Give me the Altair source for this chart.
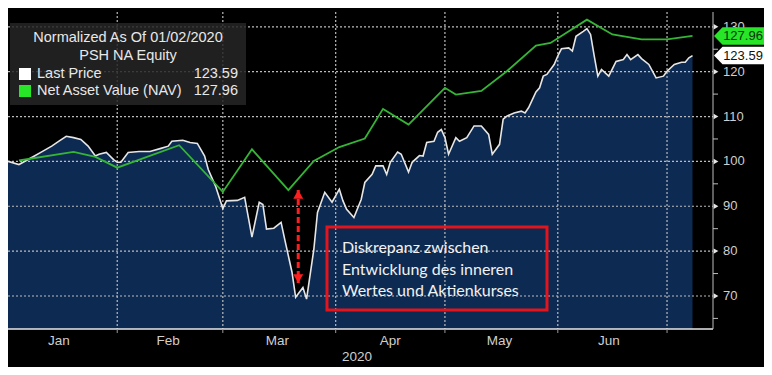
import altair as alt
import pandas as pd

# ---------------- data ----------------
price_dates = [
    "2020-01-02", "2020-01-05", "2020-01-09", "2020-01-11", "2020-01-14", "2020-01-16",
    "2020-01-18", "2020-01-20", "2020-01-22", "2020-01-24", "2020-01-26", "2020-01-27",
    "2020-01-29", "2020-01-31", "2020-02-01", "2020-02-02", "2020-02-04", "2020-02-07",
    "2020-02-10", "2020-02-13", "2020-02-15", "2020-02-16", "2020-02-19", "2020-02-21",
    "2020-02-23", "2020-02-25", "2020-02-26", "2020-02-28", "2020-03-01", "2020-03-02",
    "2020-03-05", "2020-03-07", "2020-03-09", "2020-03-11", "2020-03-12", "2020-03-13",
    "2020-03-15", "2020-03-17", "2020-03-18", "2020-03-20", "2020-03-21", "2020-03-23",
    "2020-03-24", "2020-03-26", "2020-03-27", "2020-03-29", "2020-03-31", "2020-04-02",
    "2020-04-03", "2020-04-04", "2020-04-06", "2020-04-08", "2020-04-09", "2020-04-11",
    "2020-04-12", "2020-04-14", "2020-04-15", "2020-04-16", "2020-04-18", "2020-04-19",
    "2020-04-21", "2020-04-22", "2020-04-24", "2020-04-25", "2020-04-26", "2020-04-28",
    "2020-04-29", "2020-04-30", "2020-05-01", "2020-05-02", "2020-05-04", "2020-05-05",
    "2020-05-07", "2020-05-09", "2020-05-11", "2020-05-13", "2020-05-14", "2020-05-16",
    "2020-05-17", "2020-05-18", "2020-05-20", "2020-05-22", "2020-05-23", "2020-05-24",
    "2020-05-26", "2020-05-27", "2020-05-28", "2020-05-29", "2020-05-31", "2020-06-01",
    "2020-06-02", "2020-06-04", "2020-06-05", "2020-06-06", "2020-06-08", "2020-06-09",
    "2020-06-10", "2020-06-11", "2020-06-12", "2020-06-13", "2020-06-15", "2020-06-17",
    "2020-06-19", "2020-06-20", "2020-06-21", "2020-06-23", "2020-06-24", "2020-06-26",
    "2020-06-28", "2020-06-30", "2020-07-01", "2020-07-03", "2020-07-05", "2020-07-06",
    "2020-07-07", "2020-07-08",
]
price_values = [
    100.0, 99.3, 101.1, 102.0, 103.4, 104.5,
    105.6, 105.3, 104.9, 103.4, 101.2, 101.6,
    102.0, 100.4, 99.8, 99.8, 102.0, 102.2,
    102.2, 102.9, 103.4, 104.5, 104.7, 104.2,
    104.0, 101.2, 98.2, 94.5, 89.5, 91.2,
    91.3, 92.0, 83.1, 90.9, 90.4, 84.9,
    85.1, 86.4, 82.6, 75.3, 69.7, 71.9,
    69.3, 80.4, 88.6, 93.1, 90.9, 93.8,
    91.2, 89.3, 87.5, 91.5, 95.3, 97.1,
    99.0, 99.0, 97.1, 99.8, 102.1, 101.6,
    97.6, 99.8, 101.3, 101.2, 104.2, 104.5,
    106.5, 107.1, 105.3, 101.6, 105.3, 104.5,
    105.3, 107.9, 107.9, 106.0, 101.6, 103.8,
    109.4, 110.1, 110.8, 111.2, 110.8, 112.0,
    115.5, 116.4, 119.0, 119.4, 121.6, 123.5,
    125.1, 125.3, 124.6, 127.9, 129.0, 129.6,
    128.3, 123.5, 119.0, 120.5, 119.0, 122.3,
    122.7, 123.8, 122.7, 123.8, 122.9, 121.6,
    118.6, 119.0, 120.1, 121.6, 122.1, 122.1,
    123.1, 123.59,
]
nav_dates = [
    "2020-01-05", "2020-01-20", "2020-01-26", "2020-02-01", "2020-02-18", "2020-03-01",
    "2020-03-09", "2020-03-19", "2020-03-26", "2020-04-02", "2020-04-09", "2020-04-14",
    "2020-04-21", "2020-05-01", "2020-05-04", "2020-05-11", "2020-05-18", "2020-05-26",
    "2020-05-30", "2020-06-09", "2020-06-16", "2020-06-24", "2020-07-01", "2020-07-08",
]
nav_values = [
    100.2, 102.1, 101.0, 98.6, 103.6, 93.2,
    102.7, 93.6, 100.1, 103.2, 105.1, 111.7,
    108.2, 116.4, 114.9, 115.7, 120.1, 125.8,
    126.4, 131.6, 128.3, 127.2, 127.2, 127.96,
]
month_names = ["Jan", "Feb", "Mar", "Apr", "May", "Jun"]
month_mid = ["2020-01-16", "2020-02-15", "2020-03-16", "2020-04-16", "2020-05-16", "2020-06-15"]
month_starts = ["2020-02-01", "2020-03-01", "2020-04-01", "2020-05-01", "2020-06-01", "2020-07-01"]
year_label = "2020"
y_ticks = [70, 80, 90, 100, 110, 120, 130]
y_minor = [65, 75, 85, 95, 105, 115, 125]
last_price = 123.59
last_nav = 127.96
legend_title = ["Normalized As Of 01/02/2020", "PSH NA Equity"]
series_names = ["Last Price", "Net Asset Value (NAV)"]
arrow_date = "2020-03-21T17:00:00"
arrow_top = 93.6
arrow_bottom = 72.9
annotation_lines = ["Diskrepanz zwischen", "Entwicklung des inneren", "Wertes und Aktienkurses"]

# ---------------- layout ----------------
W, H = 705, 317
FONT = "Liberation Sans"
GRID = "#bcbcbc"
AXIS_TXT = "#cfcfcf"
Y_MIN, Y_MAX = 62.64, 133.3

x_scale = alt.Scale(domain=[alt.DateTime(year=2020, month=1, date=2),
                            alt.DateTime(year=2020, month=7, date=13, hours=15)])
y_scale = alt.Scale(domain=[Y_MIN, Y_MAX], nice=False, zero=False)

price_df = pd.DataFrame({"date": pd.to_datetime(price_dates), "value": price_values})
nav_df = pd.DataFrame({"date": pd.to_datetime(nav_dates), "value": nav_values})
one = pd.DataFrame({"k": [0]})


def X(field):
    return alt.X(field, type="temporal", scale=x_scale, axis=None)


def Y(field):
    return alt.Y(field, type="quantitative", scale=y_scale, axis=None)


area = alt.Chart(price_df).mark_area(color="#0d2a52", opacity=1).encode(
    x=X("date"), y=Y("value"), y2=alt.Y2(datum=Y_MIN))

# grid (drawn as rules, over the area)
hgrid = alt.Chart(pd.DataFrame({"tick": y_ticks})).mark_rule(
    color=GRID, strokeDash=[2, 2], strokeWidth=1.2, opacity=1).encode(
    y=Y("tick"), x=alt.value(0), x2=alt.value(W))
vgrid = alt.Chart(pd.DataFrame({"d": pd.to_datetime(month_starts)})).mark_rule(
    color=GRID, strokeDash=[2, 2], strokeWidth=1.2, opacity=1).encode(
    x=X("d"), y=alt.value(0), y2=alt.value(H))

price_line = alt.Chart(price_df).mark_line(color="#e6e6e6", strokeWidth=1.6).encode(
    x=X("date"), y=Y("value"))
nav_line = alt.Chart(nav_df).mark_line(color="#35b535", strokeWidth=1.8).encode(
    x=X("date"), y=Y("value"))

# axis lines, ticks and labels
bottom_line = alt.Chart(one).mark_rule(color="#e8e8e8", strokeWidth=1.5).encode(
    y=alt.value(H), x=alt.value(0), x2=alt.value(W))
right_line = alt.Chart(one).mark_rule(color="#bdbdbd", strokeWidth=1).encode(
    x=alt.value(W), y=alt.value(0), y2=alt.value(H))
month_ticks = alt.Chart(pd.DataFrame({"d": pd.to_datetime(month_starts)})).mark_rule(
    color="#9a9a9a", strokeWidth=1).encode(
    x=X("d"), y=alt.value(H), y2=alt.value(H + 4))
minor_ticks = alt.Chart(pd.DataFrame({"tick": y_minor})).mark_rule(
    color="#bdbdbd", strokeWidth=1).encode(
    y=Y("tick"), x=alt.value(W), x2=alt.value(W + 5))
major_marks = alt.Chart(pd.DataFrame({"tick": y_ticks})).mark_point(
    shape="triangle-right", filled=True, color="#e6e6e6", size=30, opacity=1).encode(
    y=Y("tick"), x=alt.value(W + 3))
y_labels = alt.Chart(pd.DataFrame({"tick": y_ticks})).mark_text(
    align="left", baseline="middle", font=FONT, fontSize=13, color=AXIS_TXT).encode(
    y=Y("tick"), x=alt.value(W + 10), text=alt.Text("tick:Q", format="d"))

# last-value tags
tag_shape = "M -1 0 L -0.66 -0.35 L 1 -0.35 L 1 0.35 L -0.66 0.35 Z"
nav_tag = alt.Chart(pd.DataFrame({"v": [last_nav]})).mark_point(
    shape=tag_shape, filled=True, fill="#27e527", strokeWidth=0, size=2500, opacity=1).encode(
    y=Y("v"), x=alt.value(W + 26))
nav_tag_text = alt.Chart(pd.DataFrame({"v": [last_nav]})).mark_text(
    align="center", baseline="middle", font=FONT, fontSize=13, color="#0b300b").encode(
    y=Y("v"), x=alt.value(W + 30), text=alt.value(f"{last_nav:.2f}"))
price_tag = alt.Chart(pd.DataFrame({"v": [last_price]})).mark_point(
    shape=tag_shape, filled=True, fill="#ffffff", strokeWidth=0, size=2500, opacity=1).encode(
    y=Y("v"), x=alt.value(W + 26))
price_tag_text = alt.Chart(pd.DataFrame({"v": [last_price]})).mark_text(
    align="center", baseline="middle", font=FONT, fontSize=13, color="#111111").encode(
    y=Y("v"), x=alt.value(W + 30), text=alt.value(f"{last_price:.2f}"))

# legend box
legend_bg = alt.Chart(one).mark_rect(color="#262626", opacity=0.85).encode(
    x=alt.value(2), x2=alt.value(238), y=alt.value(11), y2=alt.value(93))
legend_layers = [legend_bg]
for i, t in enumerate(legend_title):
    legend_layers.append(alt.Chart(one).mark_text(
        align="center", baseline="middle", font=FONT, fontSize=14.5, color="#e8e8e8").encode(
        x=alt.value(120), y=alt.value(26 + 18 * i), text=alt.value(t)))
sq_colors = ["#ffffff", "#27e527"]
vals = [last_price, last_nav]
for i, name in enumerate(series_names):
    yc = 62 + 17 * i
    legend_layers.append(alt.Chart(one).mark_rect(color=sq_colors[i]).encode(
        x=alt.value(11), x2=alt.value(23), y=alt.value(yc - 6), y2=alt.value(yc + 6)))
    legend_layers.append(alt.Chart(one).mark_text(
        align="left", baseline="middle", font=FONT, fontSize=14.5, color="#e8e8e8").encode(
        x=alt.value(29), y=alt.value(yc), text=alt.value(name)))
    legend_layers.append(alt.Chart(one).mark_text(
        align="right", baseline="middle", font=FONT, fontSize=14.5, color="#e8e8e8").encode(
        x=alt.value(230), y=alt.value(yc), text=alt.value(f"{vals[i]:.2f}")))

# x labels
month_text = alt.Chart(pd.DataFrame({"d": pd.to_datetime(month_mid), "m": month_names})).mark_text(
    align="center", baseline="middle", font=FONT, fontSize=13.5, color=AXIS_TXT).encode(
    x=X("d"), y=alt.value(H + 12), text="m:N")
year_text = alt.Chart(one).mark_text(
    align="center", baseline="middle", font=FONT, fontSize=13.5, color=AXIS_TXT).encode(
    x=alt.value(349), y=alt.value(H + 28), text=alt.value(year_label))

# arrow
arrow_df = pd.DataFrame({"d": [pd.Timestamp(arrow_date)], "top": [arrow_top], "bottom": [arrow_bottom]})
arrow_shaft = alt.Chart(arrow_df).mark_rule(color="#ff1e1e", strokeWidth=3, strokeDash=[6, 3]).encode(
    x=X("d"), y=Y("top"), y2="bottom:Q")
arrow_head_top = alt.Chart(arrow_df).mark_point(
    shape="triangle-up", filled=True, color="#ff1e1e", size=100, opacity=1, yOffset=4.3).encode(
    x=X("d"), y=Y("top"))
arrow_head_bot = alt.Chart(arrow_df).mark_point(
    shape="triangle-down", filled=True, color="#ff1e1e", size=100, opacity=1, yOffset=-4.3).encode(
    x=X("d"), y=Y("bottom"))

# annotation
ann_box = alt.Chart(one).mark_rect(fill="transparent", stroke="#e4141c", strokeWidth=3).encode(
    x=alt.value(319), x2=alt.value(539), y=alt.value(215), y2=alt.value(298))
ann_layers = [ann_box]
for i, line in enumerate(annotation_lines):
    ann_layers.append(alt.Chart(one).mark_text(
        align="left", baseline="middle", font="Lato", fontSize=16, color="#f2f2f2").encode(
        x=alt.value(334), y=alt.value(236 + 21.5 * i), text=alt.value(line)))

chart = alt.layer(
    area, hgrid, vgrid, price_line, nav_line,
    bottom_line, right_line, month_ticks, minor_ticks, major_marks, y_labels,
    nav_tag, nav_tag_text, price_tag, price_tag_text,
    *legend_layers, month_text, year_text,
    arrow_shaft, arrow_head_top, arrow_head_bot, *ann_layers,
).properties(
    width=W, height=H,
    autosize=alt.AutoSizeParams(type="none"),
    padding={"left": 0, "top": 4, "right": 51, "bottom": 38},
    background="black",
).configure_view(strokeWidth=0)

chart.save("out.html", embed_options={"renderer": "svg", "actions": False})
